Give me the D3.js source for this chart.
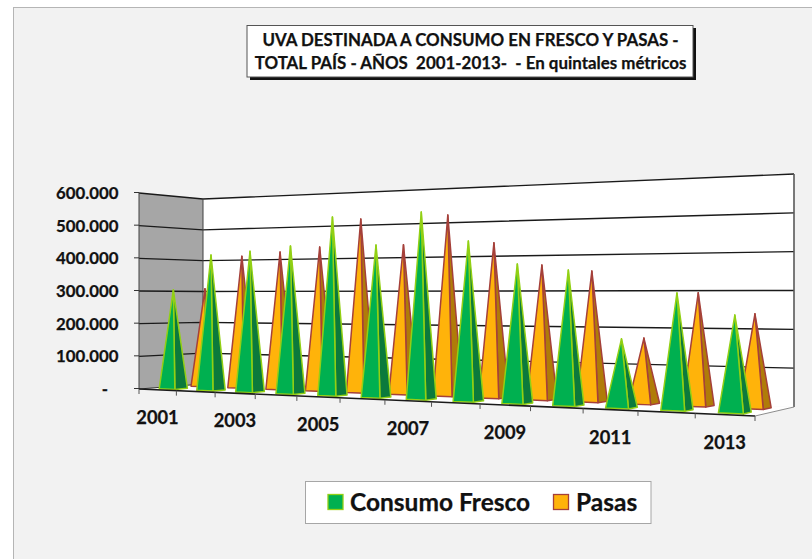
<!DOCTYPE html>
<html>
<head>
<meta charset="utf-8">
<script src="https://cdn.jsdelivr.net/npm/d3@7"></script>
<style>
html, body { margin: 0; padding: 0; background: #fff; }
svg { display: block; font-family: Lato, Carlito, sans-serif; font-weight: 700; }
text { stroke: #111; stroke-width: 0.25; }
</style>
</head>
<body>
<svg id="chart" width="812" height="559"></svg>
<script>
const years = [2001, 2002, 2003, 2004, 2005, 2006, 2007, 2008, 2009, 2010, 2011, 2012, 2013];
const consumoFresco = [304000, 410000, 420000, 434000, 516000, 433000, 523000, 440000, 376000, 359000, 179000, 299000, 244000];
const pasas = [308000, 410000, 421000, 434000, 515000, 436000, 519000, 437000, 373000, 355000, 175000, 296000, 242000];
const yTicks = [0, 100000, 200000, 300000, 400000, 500000, 600000];
const yLabels = ["-", "100.000", "200.000", "300.000", "400.000", "500.000", "600.000"];
const xLabelYears = [2001, 2003, 2005, 2007, 2009, 2011, 2013];
const titleLines = ["UVA DESTINADA A CONSUMO EN FRESCO Y PASAS -", "TOTAL PAÍS - AÑOS  2001-2013-  - En quintales métricos"];
const seriesNames = ["Consumo Fresco", "Pasas"];

const svg = d3.select("#chart");

// colours per series: front face, side face, edge
const greenStyle = { face: "#00b050", side: "#0b7a3c", edge: "#92d014" };
const orangeStyle = { face: "#ffb30a", side: "#b07c08", edge: "#a5403a" };

// the box of the 3d chart, t goes left to right, d goes front to back
const xFront = d3.scaleLinear().domain([0, 1]).range([139, 755]);
const xBack = d3.scaleLinear().domain([0, 1]).range([203, 794]);
const baseFront = d3.scaleLinear().domain([0, 1]).range([389, 416]);
const baseBack = d3.scaleLinear().domain([0, 1]).range([384, 407]);
const topFront = d3.scaleLinear().domain([0, 1]).range([193, 171]);
const topBack = d3.scaleLinear().domain([0, 1]).range([199, 174]);
const yFrac = d3.scaleLinear().domain([0, 600000]).range([0, 1]);

// foreshortening along the year axis
const yearScale = d3.scaleLinear().domain([0, years.length]).range([0, 1]);
function perspT(u) {
	var tt = yearScale(u);
	return tt / (tt + (1 - tt) * 1.29);
}

// u in year slots, d in depth 0-1, value in quintales
function project(u, d, value) {
	var t = perspT(u);
	var base = d3.interpolateNumber(baseFront(t), baseBack(t))(d);
	var top = d3.interpolateNumber(topFront(t), topBack(t))(d);
	return [
		d3.interpolateNumber(xFront(t), xBack(t))(d),
		d3.interpolateNumber(base, top)(yFrac(value))
	];
}

var line = d3.line();
var n = years.length;

// background frame
svg.append("rect").attr("x", 13.5).attr("y", 7.5).attr("width", 820).attr("height", 570)
	.attr("fill", "#f2f2f2").attr("stroke", "#b5b5b5");

// walls and floor
svg.append("path")
	.attr("d", line([project(0, 0, 0), project(0, 1, 0), project(0, 1, 600000), project(0, 0, 600000)]) + "Z")
	.attr("fill", "#a6a6a6");
svg.append("path")
	.attr("d", line([project(0, 1, 0), project(n, 1, 0), project(n, 1, 600000), project(0, 1, 600000)]) + "Z")
	.attr("fill", "#fff");
svg.append("path")
	.attr("d", line([project(0, 0, 0), project(n, 0, 0), project(n, 1, 0), project(0, 1, 0)]) + "Z")
	.attr("fill", "#fff");

// gridlines
svg.append("g").selectAll("path").data(yTicks.slice(1)).enter().append("path")
	.attr("d", d => line([project(0, 0, d), project(0, 1, d), project(n, 1, d)]))
	.attr("fill", "none").attr("stroke", "#1a1a1a").attr("stroke-width", 1.4);

// wall edges
svg.append("path").attr("d", line([project(0, 1, 0), project(0, 1, 600000)]))
	.attr("stroke", "#404040").attr("stroke-width", 1);
svg.append("path").attr("d", line([project(0, 0, 0), project(0, 0, 600000)]))
	.attr("stroke", "#404040").attr("stroke-width", 1);
svg.append("path").attr("d", line([project(n, 1, 0), project(n, 1, 600000)]))
	.attr("stroke", "#595959").attr("stroke-width", 1.6);
svg.append("path").attr("d", line([project(n, 0, 0), project(n, 1, 0)]))
	.attr("stroke", "#8c8c8c").attr("stroke-width", 1);
svg.append("path").attr("d", line([project(0, 0, 0), project(0, 1, 0)]))
	.attr("stroke", "#333").attr("stroke-width", 1);

// pyramids, one depth row per series
function drawPyramids(values, dFront, dBack, style) {
	var uGap = 0.29, uWidth = 0.42;
	var g = svg.append("g");
	values.forEach(function(value, i) {
		var u0 = i + uGap, u1 = u0 + uWidth;
		var apex = project((u0 + u1) / 2, (dFront + dBack) / 2, value);
		var a = project(u0, dFront, 0);
		var b = project(u1, dFront, 0);
		var c = project(u1, dBack, 0);
		g.append("path").attr("d", line([b, c, apex]) + "Z")
			.attr("fill", style.side).attr("stroke", style.edge)
			.attr("stroke-width", 1.5).attr("stroke-linejoin", "round");
		g.append("path").attr("d", line([a, b, apex]) + "Z")
			.attr("fill", style.face).attr("stroke", style.edge)
			.attr("stroke-width", 1.5).attr("stroke-linejoin", "round");
	});
}
drawPyramids(pasas, 0.65, 0.85, orangeStyle);
drawPyramids(consumoFresco, 0.15, 0.35, greenStyle);

// front edge of the floor and its ticks
svg.append("path").attr("d", line([project(0, 0, 0), project(n, 0, 0)]))
	.attr("stroke", "#1a1a1a").attr("stroke-width", 1.6);
svg.append("g").selectAll("path").data(d3.range(n + 1)).enter().append("path")
	.attr("d", function(u) {
		var p = project(u, 0, 0);
		return line([p, [p[0], p[1] + 5]]);
	})
	.attr("stroke", "#555").attr("stroke-width", 1);

// y axis
svg.append("g").selectAll("path").data(yTicks).enter().append("path")
	.attr("d", function(v) {
		var p = project(0, 0, v);
		return line([[p[0] - 5, p[1] - 0.5], [p[0], p[1] - 0.5]]);
	})
	.attr("stroke", "#333").attr("stroke-width", 1);
svg.append("g").selectAll("text").data(yTicks).enter().append("text")
	.attr("x", (d, i) => i === 0 ? 108 : 118.5)
	.attr("y", d => project(0, 0, d)[1] + 6)
	.attr("text-anchor", "end")
	.attr("font-size", 16.8)
	.attr("fill", "#111")
	.text((d, i) => yLabels[i]);

// x axis labels, every second year
svg.append("g").selectAll("text").data(xLabelYears).enter().append("text")
	.attr("x", d => project(years.indexOf(d) + 0.5, 0, 0)[0])
	.attr("y", d => project(years.indexOf(d) + 0.5, 0, 0)[1] + 34)
	.attr("text-anchor", "middle")
	.attr("font-size", 18.3)
	.attr("fill", "#111")
	.text(d => d);

// title box
svg.append("rect").attr("x", 250).attr("y", 28).attr("width", 446).attr("height", 52).attr("fill", "#111");
svg.append("rect").attr("x", 247).attr("y", 25.5).attr("width", 446).attr("height", 51.5)
	.attr("fill", "#fff").attr("stroke", "#555");
svg.append("g").selectAll("text").data(titleLines).enter().append("text")
	.attr("x", 470.5)
	.attr("y", (d, i) => 46 + i * 23)
	.attr("text-anchor", "middle")
	.attr("font-size", 16.9)
	.attr("fill", "#111")
	.attr("xml:space", "preserve")
	.style("white-space", "pre")
	.text(d => d);

// legend
svg.append("rect").attr("x", 305.5).attr("y", 481.5).attr("width", 345.5).attr("height", 42)
	.attr("fill", "#fff").attr("stroke", "#a6a6a6");
var legendSwatchX = [328, 553.5];
var legendTextX = [350, 576];
var legendStyles = [greenStyle, orangeStyle];
seriesNames.forEach(function(name, i) {
	svg.append("rect").attr("x", legendSwatchX[i]).attr("y", 494.5).attr("width", 15).attr("height", 15)
		.attr("fill", legendStyles[i].face).attr("stroke", legendStyles[i].edge).attr("stroke-width", 1.3);
	svg.append("text").attr("x", legendTextX[i]).attr("y", 510.5)
		.attr("font-size", 24.5).attr("fill", "#111").text(name);
});
</script>
</body>
</html>
